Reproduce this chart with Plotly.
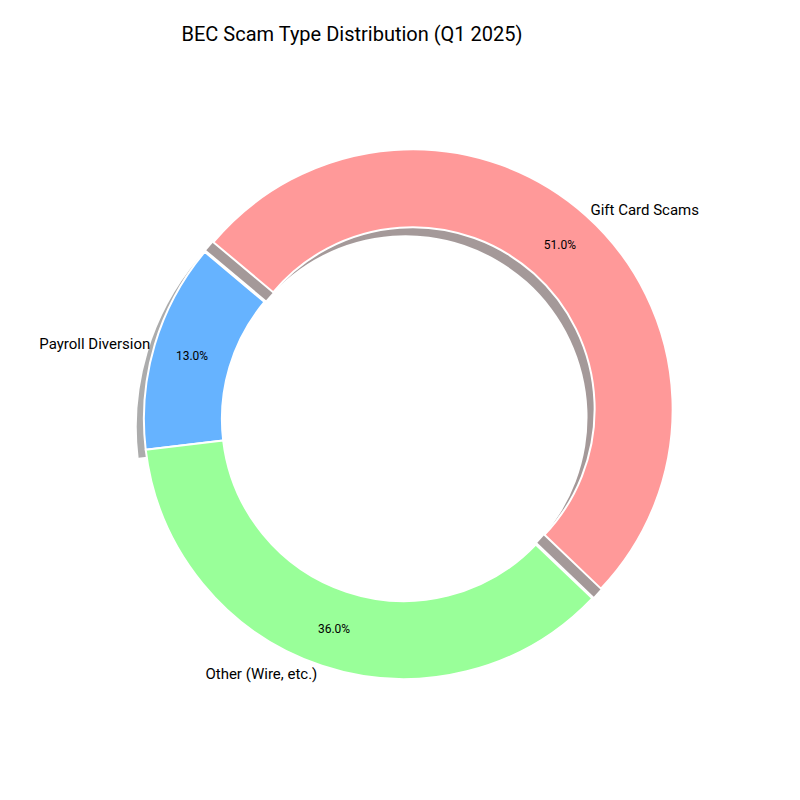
import plotly.graph_objects as go

labels = ["Gift Card Scams", "Payroll Diversion", "Other (Wire, etc.)"]
values = [51, 13, 36]
colors = ["#ff9999", "#66b3ff", "#99ff99"]
pulls = [0.05, 0, 0]

dom = dict(x=[0.049, 0.816], y=[0.1025, 0.87])
fig = go.Figure()
# shadow
fig.add_trace(go.Pie(labels=labels, values=values, sort=False, direction="counterclockwise",
                     rotation=-50, hole=0.7, pull=pulls,
                     marker=dict(colors=["rgba(90,70,70,0.55)", "rgba(90,90,90,0.5)", "rgba(0,0,0,0)"],
                                 line=dict(width=0)),
                     textinfo="none", hoverinfo="skip", showlegend=False,
                     domain=dict(x=[dom["x"][0] - 0.01, dom["x"][1] - 0.01],
                                 y=[dom["y"][0] - 0.01, dom["y"][1] - 0.01])))
fig.add_trace(go.Pie(labels=labels, values=values, sort=False, direction="counterclockwise",
                     rotation=-50, hole=0.7, pull=pulls,
                     marker=dict(colors=colors, line=dict(color="white", width=2)),
                     texttemplate="%{percent:.1%}", textposition="inside",
                     insidetextorientation="horizontal",
                     textfont=dict(size=12, color="black"),
                     showlegend=False, domain=dom))
fig.add_trace(go.Pie(labels=labels, values=values, sort=False, direction="counterclockwise",
                     rotation=-50, hole=0.7, pull=pulls,
                     marker=dict(colors=["rgba(0,0,0,0)"] * 3, line=dict(width=0)),
                     texttemplate="%{label}", textposition="outside",
                     textfont=dict(size=15, color="black"),
                     hoverinfo="skip", showlegend=False, domain=dom))
fig.update_layout(width=800, height=800, margin=dict(l=0, r=0, t=0, b=0),
                  paper_bgcolor="white", font=dict(family="Roboto, DejaVu Sans"),
                  title=dict(text="BEC Scam Type Distribution (Q1 2025)", x=0.43, xanchor="center",
                             y=0.968, yanchor="middle", font=dict(size=20, color="black")))
fig.write_html("out.html")
